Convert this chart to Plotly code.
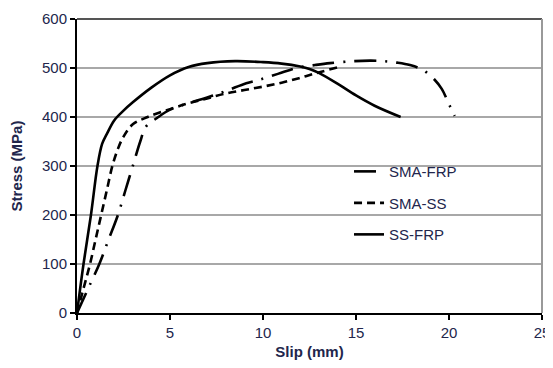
import plotly.graph_objects as go

# SMA-FRP (dash-dot)
sma_frp_x = [0, 0.6, 1.2, 1.7, 2.2, 2.6, 3.0, 3.4, 3.7, 4.3, 5.0, 6.0, 7.0, 8.0, 9.1, 9.8, 10.8, 11.8, 12.8, 13.6, 14.9, 15.8, 16.5, 17.2, 17.9, 18.6, 19.25, 19.6, 19.9, 20.1, 20.3]
sma_frp_y = [0, 50, 100, 150, 200, 250, 300, 350, 380, 398, 415, 428, 440, 453, 469, 476, 488, 500, 506, 510, 514, 515, 514, 511, 506, 496, 475, 458, 435, 418, 402]

# SMA-SS (dashed)
sma_ss_x = [0, 0.35, 0.7, 1.0, 1.3, 1.6, 1.9, 2.2, 2.5, 3.0, 3.8, 5.0, 6.0, 7.0, 8.0, 9.0, 10.0, 11.0, 12.0, 13.0, 14.1]
sma_ss_y = [0, 50, 100, 150, 200, 250, 300, 335, 360, 385, 400, 416, 428, 438, 448, 455, 462, 470, 480, 491, 502]

# SS-FRP (solid)
ss_frp_x = [0, 0.35, 0.75, 1.1, 1.35, 1.6, 2.0, 2.5, 3.0, 4.0, 5.0, 6.0, 7.0, 8.5, 10.0, 11.0, 12.0, 12.5, 13.0, 14.0, 15.0, 16.0, 17.4]
ss_frp_y = [0, 100, 200, 300, 345, 365, 393, 413, 430, 460, 485, 502, 510, 514, 512, 509, 503, 498, 490, 468, 444, 423, 400]

x_ticks = [0, 5, 10, 15, 20, 25]
y_ticks = [0, 100, 200, 300, 400, 500, 600]

txt = "#22264c"
font = "Liberation Sans, Arial, sans-serif"

fig = go.Figure()
fig.add_trace(go.Scatter(x=sma_frp_x, y=sma_frp_y, mode="lines", name="SMA-FRP",
                         line=dict(color="black", width=2.6, dash="22px,9px,2px,9px", shape="spline"),
                         legendgroup="a"))
fig.add_trace(go.Scatter(x=sma_ss_x, y=sma_ss_y, mode="lines", name="SMA-SS",
                         line=dict(color="black", width=2.6, dash="8px,5px", shape="spline"),
                         legendgroup="b"))
fig.add_trace(go.Scatter(x=ss_frp_x, y=ss_frp_y, mode="lines", name="SS-FRP",
                         line=dict(color="black", width=2.6, shape="spline"),
                         legendgroup="c"))

# page body has an 8px margin, so the figure is drawn smaller and shifted
fig.update_layout(
    width=545, height=352,
    margin=dict(l=69, r=11, t=11, b=47),
    paper_bgcolor="white", plot_bgcolor="white",
    font=dict(family=font, size=15, color=txt),
    legend=dict(x=0.585, y=0.537, xanchor="left", yanchor="top",
                bgcolor="rgba(0,0,0,0)", borderwidth=0,
                font=dict(family=font, size=15, color=txt),
                traceorder="grouped", tracegroupgap=9),
    showlegend=True,
)
fig.update_xaxes(range=[0, 25], tickvals=x_ticks, ticks="outside", ticklen=5, tickwidth=1.5,
                 tickcolor="black", showline=True, linecolor="black", linewidth=2,
                 showgrid=False, zeroline=False, automargin=False, ticklabeloverflow="allow",
                 title=dict(text="<b>Slip (mm)</b>", font=dict(size=15, color=txt), standoff=8),
                 tickfont=dict(size=15, color=txt))
fig.update_yaxes(range=[0, 600], tickvals=y_ticks, ticks="outside", ticklen=5, tickwidth=1.5,
                 tickcolor="black", showline=True, linecolor="black", linewidth=2,
                 showgrid=True, gridcolor="#a8a8a8", gridwidth=1.5, zeroline=False, automargin=False,
                 title=dict(text="<b>Stress (MPa)</b>", font=dict(size=15, color=txt), standoff=23),
                 tickfont=dict(size=15, color=txt))
# white box behind the legend, hiding the gridlines
fig.add_shape(type="rect", xref="paper", yref="paper", x0=0.518, x1=0.884, y0=0.214, y1=0.554,
              fillcolor="white", line=dict(width=0), layer="between")
# top and right borders
fig.add_shape(type="line", xref="paper", yref="paper", x0=0, x1=1, y0=1, y1=1,
              line=dict(color="#555555", width=2))
fig.add_shape(type="line", xref="paper", yref="paper", x0=1, x1=1, y0=0, y1=1,
              line=dict(color="#999999", width=2))

fig.write_html("out.html")
